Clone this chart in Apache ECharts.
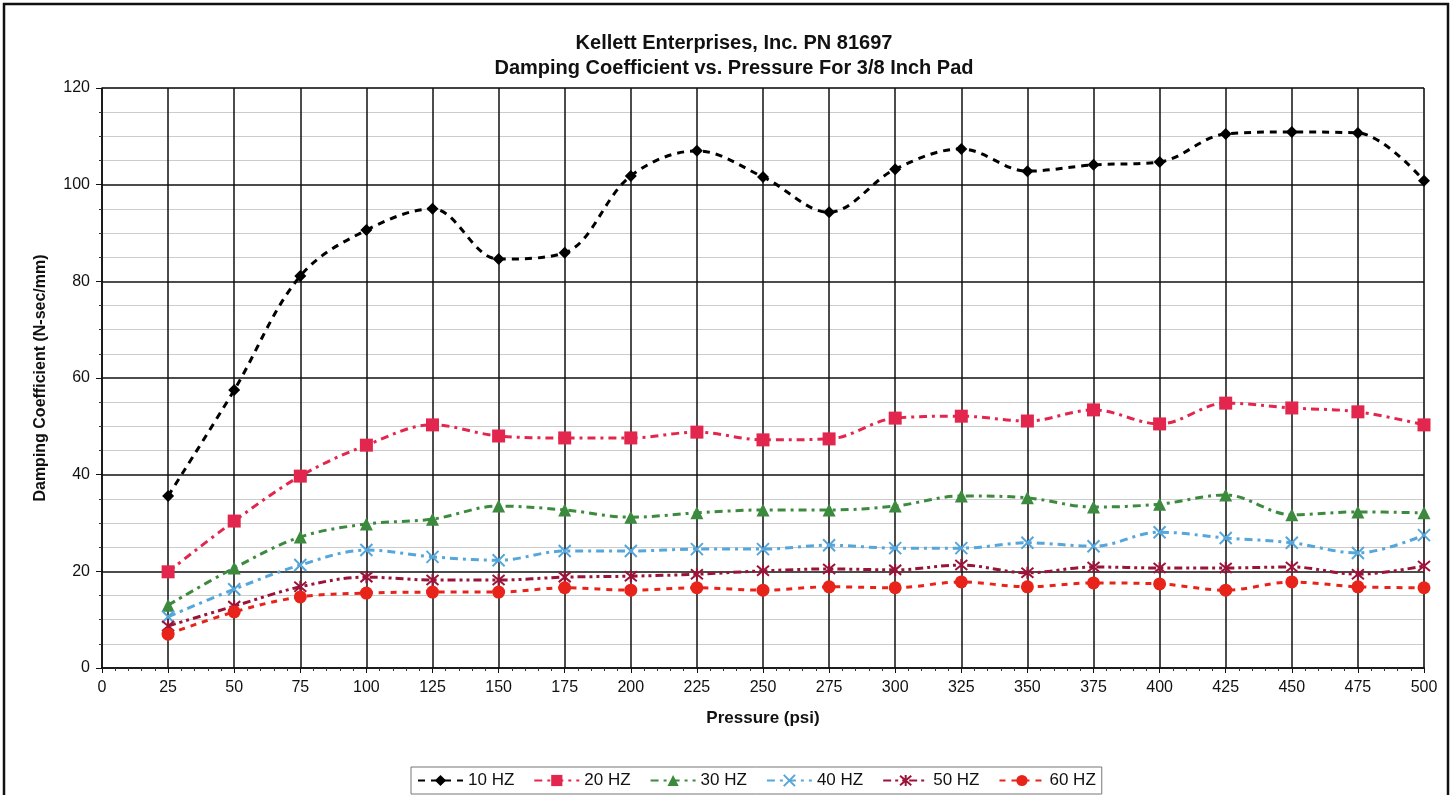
<!DOCTYPE html>
<html><head><meta charset="utf-8">
<script src="https://cdn.jsdelivr.net/npm/echarts@6/dist/echarts.min.js"></script>
<style>html,body{margin:0;padding:0;background:#fff;}#c{width:1455px;height:795px;}</style>
</head><body><div id="c"></div>
<script>
const pressure = [25,50,75,100,125,150,175,200,225,250,275,300,325,350,375,400,425,450,475,500];
const hz10 = [35.6,57.5,81.1,90.6,95.0,84.6,85.9,101.8,107.0,101.6,94.3,103.2,107.4,102.8,104.1,104.7,110.5,110.9,110.7,100.8];
const hz20 = [19.9,30.4,39.7,46.1,50.3,48.0,47.6,47.6,48.8,47.2,47.4,51.7,52.1,51.1,53.4,50.5,54.8,53.8,53.0,50.3];
const hz30 = [13.0,20.7,27.1,29.8,30.8,33.5,32.7,31.2,32.1,32.7,32.7,33.5,35.6,35.2,33.3,33.9,35.8,31.7,32.3,32.1];
const hz40 = [10.6,16.3,21.3,24.4,23.0,22.3,24.2,24.2,24.6,24.6,25.4,24.8,24.8,25.9,25.2,28.1,26.9,25.9,23.8,27.5];
const hz50 = [8.7,12.8,16.8,18.8,18.2,18.2,18.8,19.0,19.4,20.1,20.5,20.3,21.3,19.7,20.9,20.7,20.7,20.9,19.4,21.1];
const hz60 = [7.0,11.6,14.7,15.5,15.7,15.7,16.6,16.1,16.6,16.1,16.8,16.6,17.8,16.8,17.6,17.4,16.1,17.8,16.8,16.6];
const seriesNames = ['10 HZ','20 HZ','30 HZ','40 HZ','50 HZ','60 HZ'];
const titleLines = ['Kellett Enterprises, Inc. PN 81697','Damping Coefficient vs. Pressure For 3/8 Inch Pad'];

const pairs = a => pressure.map((p,i)=>[p,a[i]]);
const F = 'Liberation Sans, Arial, sans-serif';
function mk(name, data, color, dash, symbol, size, stroke) {
  return {
    name, type:'line', data: pairs(data), smooth:0.35,
    symbol, symbolSize:size,
    lineStyle:{color, width:3, type:dash},
    itemStyle:{color: stroke ? 'rgba(0,0,0,0)' : color, borderColor:color, borderWidth: stroke?2:0},
    emphasis:{disabled:true}, z:3
  };
}
const xPath = 'path://M0,0L10,10M10,0L0,10';
const starPath = 'path://M0,0L10,10M10,0L0,10M5,-1L5,11';
const chart = echarts.init(document.getElementById('c'));
chart.setOption({
  backgroundColor:'#fff',
  animation:false,
  title:{text:titleLines.join('\n'), left:729, textAlign:'center', top:26,
    textStyle:{fontFamily:F, fontSize:20, fontWeight:'bold', color:'#111', lineHeight:25}},
  graphic:[{type:'rect', shape:{x:4,y:4,width:1444,height:800}, style:{fill:'none', stroke:'#111', lineWidth:2.5}, silent:true}],
  grid:{left:102, right:31, top:88, bottom:127, show:true, borderColor:'#aaa', borderWidth:1},
  legend:{data:seriesNames, bottom:1, left:411, itemWidth:45, itemHeight:14, itemGap:19,
    borderColor:'#777', borderWidth:1, padding:[5,6], textStyle:{fontFamily:F, fontSize:17, color:'#111'}},
  xAxis:{type:'value', min:0, max:500, interval:25,
    name:'Pressure (psi)', nameLocation:'middle', nameGap:42,
    nameTextStyle:{fontFamily:F, fontSize:17, fontWeight:'bold', color:'#111'},
    axisLine:{lineStyle:{color:'#111', width:1.5}},
    axisTick:{show:true, length:5, lineStyle:{color:'#111'}},
    minorTick:{show:true, splitNumber:5, length:3, lineStyle:{color:'#333'}},
    axisLabel:{fontFamily:F, fontSize:16, color:'#111', margin:12},
    splitLine:{show:true, lineStyle:{color:'#111', width:1.5}}},
  yAxis:{type:'value', min:0, max:120, interval:20,
    name:'Damping Coefficient (N-sec/mm)', nameLocation:'middle', nameGap:53,
    nameTextStyle:{fontFamily:F, fontSize:16, fontWeight:'bold', color:'#111'},
    axisLine:{show:true, lineStyle:{color:'#111', width:1.5}},
    axisTick:{show:true, length:6, lineStyle:{color:'#111'}},
    minorTick:{show:true, splitNumber:4, length:3, lineStyle:{color:'#333'}},
    minorSplitLine:{show:true, lineStyle:{color:'#ccc', width:1}},
    axisLabel:{fontFamily:F, fontSize:16, color:'#111', margin:12},
    splitLine:{show:true, lineStyle:{color:'#111', width:1.5}}},
  series:[
    mk('10 HZ', hz10, '#000000', [7,6], 'diamond', 12),
    mk('20 HZ', hz20, '#e3264d', [8,5,3,5], 'rect', 13),
    mk('30 HZ', hz30, '#3c8a3e', [8,5,3,5], 'triangle', 13),
    mk('40 HZ', hz40, '#55a6da', [8,5,3,5], xPath, 12, true),
    mk('50 HZ', hz50, '#9a1439', [8,4,3,4,3,4], starPath, 12, true),
    mk('60 HZ', hz60, '#e8231a', [6,6], 'circle', 13)
  ]
});
</script></body></html>
